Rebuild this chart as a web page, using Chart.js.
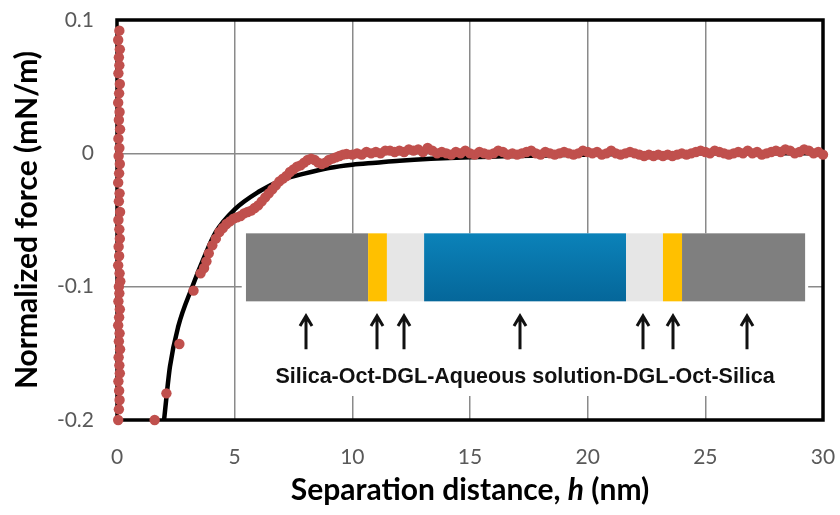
<!DOCTYPE html>
<html>
<head>
<meta charset="utf-8">
<script src="https://cdn.jsdelivr.net/npm/chart.js@4.4.1/dist/chart.umd.min.js"></script>
<style>
  html, body { margin: 0; padding: 0; background: #fff; }
</style>
</head>
<body>
<canvas id="forceChart" width="840" height="515"></canvas>
<script>
// axis ticks
var xTicks = [0, 5, 10, 15, 20, 25, 30];
var xTickLabels = ['0', '5', '10', '15', '20', '25', '30'];
var yTicks = [0.1, 0, -0.1, -0.2];
var yTickLabels = ['0.1', '0', '-0.1', '-0.2'];

// jump-in branch (measured points close to h = 0)
var approachX = [0.10, 0.05, 0.12, 0.08, 0.10, 0.06, 0.12, 0.09, 0.05, 0.11,
                 0.08, 0.13, 0.06, 0.10, 0.07, 0.12, 0.09, 0.05, 0.11, 0.08,
                 0.13, 0.06, 0.10, 0.12, 0.07, 0.09, 0.05, 0.11, 0.14, 0.08,
                 0.10, 0.06, 0.12, 0.09, 0.05, 0.11, 0.08, 0.13, 0.07, 0.10,
                 0.12, 0.06, 0.09, 0.11, 0.08, 0.05];
var approachY = [0.092, 0.085, 0.078, 0.072, 0.066, 0.060, 0.052, 0.045, 0.038, 0.031,
                 0.025, 0.018, 0.011, 0.004, -0.002, -0.008, -0.015, -0.022, -0.030, -0.036,
                 -0.044, -0.050, -0.057, -0.064, -0.070, -0.077, -0.084, -0.090, -0.096, -0.100,
                 -0.105, -0.111, -0.117, -0.123, -0.129, -0.135, -0.141, -0.147, -0.153, -0.159,
                 -0.165, -0.171, -0.178, -0.185, -0.192, -0.200];

// measured force, 1.6 - 9.75 nm
var nearX = [1.6, 2.1, 2.65, 3.25, 3.55, 3.7, 3.8,
             3.9, 4.05, 4.2, 4.35, 4.5, 4.65, 4.8, 4.95, 5.1, 5.25,
             5.4, 5.55, 5.7, 5.85, 6.0, 6.15, 6.3, 6.45, 6.6, 6.75,
             6.9, 7.05, 7.2, 7.35, 7.5, 7.65, 7.8, 7.95, 8.1, 8.25,
             8.4, 8.55, 8.7, 8.85, 9.0, 9.15, 9.3, 9.45, 9.6, 9.75];
var nearY = [-0.2, -0.18, -0.143, -0.103, -0.09, -0.086, -0.081,
             -0.075, -0.069, -0.064, -0.059, -0.056, -0.053, -0.051, -0.049, -0.048, -0.047,
             -0.045, -0.044, -0.043, -0.041, -0.039, -0.036, -0.033, -0.030, -0.027, -0.024,
             -0.021, -0.019, -0.017, -0.014, -0.012, -0.010, -0.009, -0.007, -0.005, -0.004,
             -0.005, -0.007, -0.008, -0.007, -0.005, -0.004, -0.003, -0.002, -0.001, -0.0005];

// measured force, 10 - 30 nm
var farX = [10.0, 10.2, 10.4, 10.6, 10.8, 11.0, 11.2, 11.4, 11.6, 11.8,
            12.0, 12.2, 12.4, 12.6, 12.8, 13.0, 13.2, 13.4, 13.6, 13.8,
            14.0, 14.2, 14.4, 14.6, 14.8, 15.0, 15.2, 15.4, 15.6, 15.8,
            16.0, 16.2, 16.4, 16.6, 16.8, 17.0, 17.2, 17.4, 17.6, 17.8,
            18.0, 18.2, 18.4, 18.6, 18.8, 19.0, 19.2, 19.4, 19.6, 19.8,
            20.0, 20.2, 20.4, 20.6, 20.8, 21.0, 21.2, 21.4, 21.6, 21.8,
            22.0, 22.2, 22.4, 22.6, 22.8, 23.0, 23.2, 23.4, 23.6, 23.8,
            24.0, 24.2, 24.4, 24.6, 24.8, 25.0, 25.2, 25.4, 25.6, 25.8,
            26.0, 26.2, 26.4, 26.6, 26.8, 27.0, 27.2, 27.4, 27.6, 27.8,
            28.0, 28.2, 28.4, 28.6, 28.8, 29.0, 29.2, 29.4, 29.6, 29.8,
            30.0];
var farY = [-0.001, 0.000, -0.001, 0.001, 0.000, 0.001, 0.000, 0.002, 0.002, 0.001,
            0.002, 0.001, 0.003, 0.002, 0.003, 0.001, 0.004, 0.002, 0.000, 0.001,
            0.000, -0.001, 0.001, 0.000, 0.002, 0.000, -0.001, 0.001, 0.000, -0.001,
            0.000, 0.002, 0.001, -0.001, 0.000, -0.001, 0.000, 0.001, 0.002, 0.000,
            -0.001, 0.001, 0.000, -0.001, 0.000, 0.001, 0.000, -0.001, 0.000, 0.002,
            0.001, 0.000, 0.001, -0.001, 0.000, 0.002, 0.000, -0.001, 0.000, 0.001,
            0.000, -0.001, -0.002, -0.001, -0.002, -0.001, -0.002, -0.001, -0.002, -0.001,
            0.000, -0.001, 0.000, 0.001, 0.002, 0.001, 0.000, 0.002, 0.001, 0.000,
            -0.001, 0.000, 0.001, 0.000, 0.002, 0.000, 0.001, -0.001, 0.000, 0.001,
            0.002, 0.001, 0.003, 0.002, 0.000, 0.001, 0.003, 0.002, 0.000, 0.001,
            -0.001];

// fitted curve
var fitX = [2.0, 2.25, 2.6, 3.2, 3.7, 4.2, 5.0, 6.0, 7.0, 8.0, 9.0, 10.0, 11.0, 12.0, 15.0, 20.0, 25.0, 30.0];
var fitY = [-0.2, -0.16, -0.13, -0.1, -0.078, -0.059, -0.042, -0.029, -0.020, -0.015, -0.011, -0.0085, -0.007, -0.0055, -0.003, -0.001, 0, 0];

// inset legend
var insetText = 'Silica-Oct-DGL-Aqueous solution-DGL-Oct-Silica';

function pairs(xs, ys) {
    return xs.map(function (x, i) { return { x: x, y: ys[i] }; });
}

var red = '#C0504D';

// frame + schematic inset, drawn over the grid but under the points
var insetPlugin = {
    id: 'inset',
    beforeDatasetsDraw: function (chart) {
        var ctx = chart.ctx, a = chart.chartArea;
        var X = function (v) { return chart.scales.x.getPixelForValue(v); };
        var Y = function (v) { return chart.scales.y.getPixelForValue(v); };
        ctx.save();
        // white box hides the grid behind the schematic
        ctx.fillStyle = '#fff';
        ctx.fillRect(X(5.3), Y(-0.06), X(29.37) - X(5.3), Y(-0.182) - Y(-0.06));

        var top = Y(-0.06), bot = Y(-0.111);
        var blue = ctx.createLinearGradient(0, top, 0, bot);
        blue.addColorStop(0, '#0b82b9');
        blue.addColorStop(1, '#05679a');
        var layers = [
            [5.48, 10.67, '#7f7f7f'], [10.67, 11.47, '#ffc000'], [11.47, 13.05, '#e6e6e6'],
            [13.05, 21.63, blue], [21.63, 23.2, '#e6e6e6'], [23.2, 24.01, '#ffc000'],
            [24.01, 29.24, '#7f7f7f']
        ];
        layers.forEach(function (l) {
            ctx.fillStyle = l[2];
            ctx.fillRect(X(l[0]), top, X(l[1]) - X(l[0]), bot - top);
        });

        // arrows
        ctx.strokeStyle = '#111';
        ctx.lineWidth = 3;
        [8.03, 11.05, 12.2, 17.13, 22.35, 23.63, 26.77].forEach(function (h) {
            var x = Math.round(X(h)), y0 = Y(-0.122), y1 = Y(-0.147);
            ctx.beginPath();
            ctx.moveTo(x, y1); ctx.lineTo(x, y0 + 1);
            ctx.moveTo(x - 6, y0 + 10); ctx.lineTo(x, y0); ctx.lineTo(x + 6, y0 + 10);
            ctx.stroke();
        });

        ctx.fillStyle = '#111';
        ctx.font = 'bold 21.5px "Liberation Sans", Arial, sans-serif';
        ctx.textAlign = 'center';
        ctx.textBaseline = 'alphabetic';
        ctx.fillText(insetText, X(17.34), Y(-0.1725));

        // black plot frame
        ctx.strokeStyle = '#000';
        ctx.lineWidth = 3.5;
        ctx.strokeRect(a.left, a.top, a.right - a.left, a.bottom - a.top);
        ctx.restore();
    },
    afterDraw: function (chart) {
        var ctx = chart.ctx, a = chart.chartArea;
        ctx.save();
        ctx.fillStyle = '#000';
        ctx.textBaseline = 'middle';

        // y title
        ctx.save();
        ctx.translate(27, (a.top + a.bottom) / 2);
        ctx.rotate(-Math.PI / 2);
        ctx.textAlign = 'center';
        ctx.font = 'bold 30px Lato, sans-serif';
        ctx.fillText('Normalized force (mN/m)', 0, 0);
        ctx.restore();

        // x title with italic h
        var parts = [['Separation distance, ', 'bold 30px Lato, sans-serif'],
                     ['h', 'italic bold 30px Lato, sans-serif'],
                     [' (nm)', 'bold 30px Lato, sans-serif']];
        var w = 0;
        parts.forEach(function (p) { ctx.font = p[1]; w += ctx.measureText(p[0]).width; });
        var x = (a.left + a.right) / 2 - w / 2;
        ctx.textAlign = 'left';
        parts.forEach(function (p) {
            ctx.font = p[1];
            ctx.fillText(p[0], x, 490);
            x += ctx.measureText(p[0]).width;
        });
        ctx.restore();
    }
};

var tickFont = { family: 'Lato, sans-serif', size: 21 };

new Chart(document.getElementById('forceChart'), {
    type: 'scatter',
    data: {
        datasets: [
            {
                data: pairs(approachX, approachY),
                backgroundColor: red, borderColor: red, borderWidth: 0, pointRadius: 5.2
            },
            {
                data: pairs(nearX, nearY).concat(pairs(farX, farY)),
                backgroundColor: red, borderColor: red, borderWidth: 0, pointRadius: 5.2
            },
            {
                data: pairs(fitX, fitY),
                showLine: true, pointRadius: 0, borderColor: '#000', borderWidth: 4.5,
                cubicInterpolationMode: 'monotone'
            }
        ]
    },
    options: {
        responsive: false,
        animation: false,
        clip: false,
        layout: { padding: { top: 20, right: 17, left: 0, bottom: 0 } },
        plugins: { legend: { display: false }, tooltip: { enabled: false } },
        scales: {
            x: {
                type: 'linear', min: 0, max: 30,
                afterBuildTicks: function (s) { s.ticks = xTicks.map(function (v) { return { value: v }; }); },
                afterFit: function (s) { s.height = 95; s.paddingLeft = 0; s.paddingRight = 0; },
                grid: { color: '#8a8a8a', lineWidth: 1.5, drawTicks: false },
                border: { display: false },
                ticks: {
                    padding: 25, color: '#595959', font: tickFont, autoSkip: false, maxRotation: 0,
                    callback: function (v, i) { return xTickLabels[i]; }
                }
            },
            y: {
                type: 'linear', min: -0.2, max: 0.1,
                afterBuildTicks: function (s) { s.ticks = yTicks.map(function (v) { return { value: v }; }); },
                afterFit: function (s) { s.width = 117; s.paddingTop = 0; s.paddingBottom = 0; },
                grid: { color: '#8a8a8a', lineWidth: 1.5, drawTicks: false },
                border: { display: false },
                ticks: {
                    padding: 23, color: '#595959', font: tickFont,
                    callback: function (v, i) { return yTickLabels[i]; }
                }
            }
        }
    },
    plugins: [insetPlugin]
});
</script>
</body>
</html>
